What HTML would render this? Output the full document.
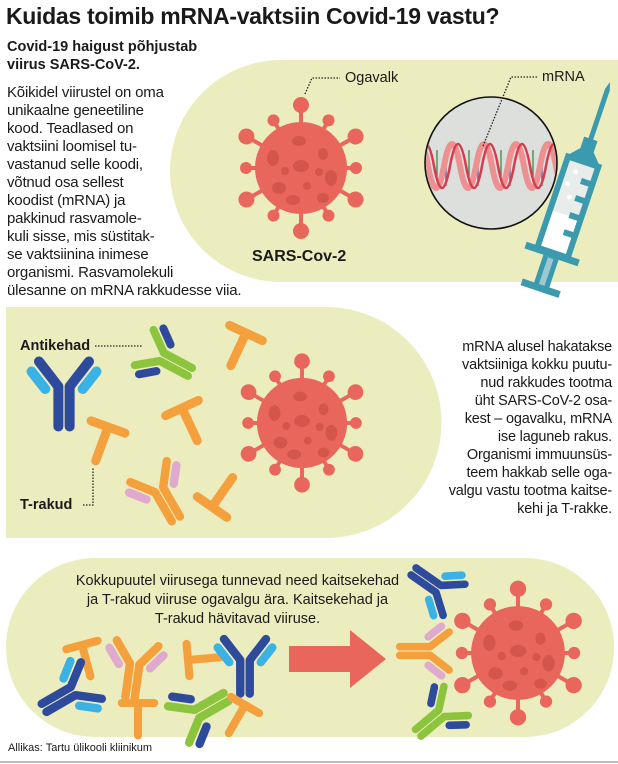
<!DOCTYPE html>
<html><head><meta charset="utf-8"><style>
body{margin:0;background:#fff;width:618px;height:764px;overflow:hidden;position:relative;font-family:"Liberation Sans",Arial,sans-serif;color:#1a1a1a}
.t{position:absolute;white-space:nowrap}
h1{position:absolute;left:6px;top:3px;margin:0;font-size:23px;font-weight:bold;letter-spacing:-0.3px}
.sub{left:7px;top:38px;font-size:14.5px;font-weight:bold;line-height:18px}
.body{left:7px;top:84px;font-size:15px;line-height:18px;letter-spacing:-0.2px}
.r{right:6px;top:338px;font-size:14.5px;line-height:18px;text-align:right;letter-spacing:-0.2px}
.c{left:40px;width:395px;top:572px;font-size:14.5px;line-height:19px;text-align:center}
svg{position:absolute;left:0;top:0}
</style></head><body>
<svg width="618" height="764" viewBox="0 0 618 764">
<defs>
<g id="spike"><line x1="0" y1="-40" x2="0" y2="-60" stroke="#e8665b" stroke-width="4"/><circle cx="0" cy="-63" r="8" fill="#e8665b"/></g>
<g id="spike2"><line x1="0" y1="-40" x2="0" y2="-52" stroke="#e8665b" stroke-width="4"/><circle cx="0" cy="-55" r="6" fill="#e8665b"/></g>
<g id="virus">
<use href="#spike" transform="rotate(0)"/><use href="#spike2" transform="rotate(30)"/>
<use href="#spike" transform="rotate(60)"/><use href="#spike2" transform="rotate(90)"/>
<use href="#spike" transform="rotate(120)"/><use href="#spike2" transform="rotate(150)"/>
<use href="#spike" transform="rotate(180)"/><use href="#spike2" transform="rotate(210)"/>
<use href="#spike" transform="rotate(240)"/><use href="#spike2" transform="rotate(270)"/>
<use href="#spike" transform="rotate(300)"/><use href="#spike2" transform="rotate(330)"/>
<circle r="46" fill="#e8665b"/>
<g fill="#d4554c"><ellipse cx="-2" cy="-27" rx="7" ry="5"/><ellipse cx="-28" cy="-10" rx="6" ry="8"/><ellipse cx="22" cy="-14" rx="5" ry="6"/><ellipse cx="0" cy="-2" rx="8" ry="6"/><ellipse cx="-16" cy="3" rx="4" ry="4"/><ellipse cx="18" cy="4" rx="4" ry="4"/><ellipse cx="30" cy="10" rx="6" ry="8"/><ellipse cx="-22" cy="20" rx="7" ry="6"/><ellipse cx="6" cy="18" rx="4" ry="4"/><ellipse cx="-8" cy="32" rx="7" ry="5"/><ellipse cx="22" cy="30" rx="6" ry="5"/></g>
</g>
<g id="ab" fill="none" stroke-linecap="round" stroke-linejoin="round" stroke-width="8">
<path d="M-4.5 34 L-4.5 2 L-20 -18" style="stroke:var(--h)"/><path d="M4.5 34 L4.5 2 L20 -18" style="stroke:var(--h)"/>
<line x1="-15" y1="4" x2="-26" y2="-10" style="stroke:var(--l)"/><line x1="15" y1="4" x2="26" y2="-10" style="stroke:var(--l)"/>
</g>
<g id="tc" stroke="#f4a03c" stroke-width="9" stroke-linecap="round"><line x1="-18" y1="0" x2="18" y2="0"/><line x1="0" y1="0" x2="0" y2="36"/></g>
<clipPath id="cc"><circle cx="491" cy="163" r="65"/></clipPath>
</defs>
<!-- panel 1 -->
<path d="M281 60 H618 V282 H281 A111 111 0 0 1 281 60Z" fill="#ecedbf"/>
<use href="#virus" transform="translate(301,168)"/>
<path d="M305 94 L312 78 L340 78" fill="none" stroke="#222" stroke-width="1.3" stroke-dasharray="1.5 1.5"/>
<circle cx="491" cy="163" r="66" fill="#dcdfdc" stroke="#111" stroke-width="1.6"/>
<g clip-path="url(#cc)">
<g stroke-width="1.3">
<line x1="437" y1="150" x2="437" y2="180" stroke="#3a8a4a"/><line x1="446" y1="160" x2="446" y2="186" stroke="#4a5ab0"/>
<line x1="469" y1="150" x2="469" y2="180" stroke="#3a8a4a"/><line x1="478" y1="160" x2="478" y2="186" stroke="#4a5ab0"/>
<line x1="501" y1="150" x2="501" y2="180" stroke="#3a8a4a"/><line x1="510" y1="160" x2="510" y2="186" stroke="#4a5ab0"/>
<line x1="533" y1="150" x2="533" y2="180" stroke="#3a8a4a"/><line x1="542" y1="160" x2="542" y2="186" stroke="#4a5ab0"/>
</g>
<path d="M412 166 q8 -44 16 0 t16 0 t16 0 t16 0 t16 0 t16 0 t16 0 t16 0 t16 0 t16 0" fill="none" stroke="#ec9090" stroke-width="6"/>
<path d="M418 166 q8 -44 16 0 t16 0 t16 0 t16 0 t16 0 t16 0 t16 0 t16 0 t16 0 t16 0" fill="none" stroke="#d63c50" stroke-width="2.5"/>
</g>
<path d="M483 146 L511 77 L538 77" fill="none" stroke="#222" stroke-width="1.3" stroke-dasharray="1.5 1.5"/>
<path d="M552 196 L563 185 L566 205Z" fill="#111"/>
<g transform="translate(610,82) rotate(18.6)">
<path d="M0 0 L-2.5 8 L-2.5 62 L2.5 62 L2.5 8Z" fill="#3b9aae"/>
<rect x="-7" y="60" width="14" height="14" fill="#3b9aae"/>
<path d="M-7 72 L-18 84 L18 84 L7 72Z" fill="#3b9aae"/>
<rect x="-16" y="84" width="32" height="96" fill="#e8ecea" stroke="#3b9aae" stroke-width="6"/>
<rect x="-13" y="140" width="26" height="37" fill="#fff"/>
<g fill="#3b9aae"><rect x="4" y="100" width="12" height="6"/><rect x="4" y="118" width="12" height="6"/><rect x="4" y="136" width="12" height="6"/><rect x="4" y="154" width="12" height="6"/></g>
<circle cx="-4" cy="96" r="2.5" fill="#fff"/><circle cx="-8" cy="110" r="2.5" fill="#fff"/><circle cx="-2" cy="122" r="2.5" fill="#fff"/>
<rect x="-28" y="178" width="56" height="7" fill="#3b9aae"/>
<rect x="-8" y="185" width="16" height="32" fill="#3b9aae"/>
<rect x="-3" y="186" width="6" height="30" fill="#9cc8cf"/>
<rect x="-20" y="214" width="40" height="7" fill="#3b9aae"/>
</g>
<!-- panel 2 -->
<path d="M6 307 H326 A115.5 115.5 0 0 1 326 538 H6Z" fill="#ecedbf"/>
<use href="#virus" transform="translate(302,423) scale(0.98)"/>
<use href="#ab" style="--h:#2d4a9c;--l:#3ab2e4" transform="translate(64,384) scale(1.25)"/>
<use href="#ab" style="--h:#8cc43e;--l:#2d4a9c" transform="translate(160,356) rotate(-62)"/>
<use href="#ab" style="--h:#f4a03c;--l:#e0aace" transform="translate(158,488) rotate(-30) scale(1.05)"/>
<use href="#tc" transform="translate(246,333) rotate(25)"/>
<use href="#tc" transform="translate(182,408) rotate(-25)"/>
<use href="#tc" transform="translate(108,427) rotate(20)"/>
<use href="#tc" transform="translate(212,507) rotate(-145)"/>
<path d="M95 346 L142 346" stroke="#222" stroke-width="1.3" stroke-dasharray="1.5 1.5"/>
<path d="M83 505 L93 505 L93 467" fill="none" stroke="#222" stroke-width="1.3" stroke-dasharray="1.5 1.5"/>
<!-- panel 3 -->
<rect x="6" y="558" width="608" height="179" rx="89" fill="#ecedbf"/>
<use href="#virus" transform="translate(518,653) scale(1.02)"/>
<path d="M289 646 H350 V630 L386 659 L350 688 V672 H289Z" fill="#e8665b"/>
<use href="#ab" style="--h:#2d4a9c;--l:#3ab2e4" transform="translate(440,590) rotate(125) scale(0.95)"/>
<use href="#ab" style="--h:#f4a03c;--l:#e0aace" transform="translate(432,651) rotate(90) scale(0.95)"/>
<use href="#ab" style="--h:#8cc43e;--l:#2d4a9c" transform="translate(443,712) rotate(50) scale(0.95)"/>
<use href="#tc" transform="translate(82,645) rotate(-15) scale(0.9)"/>
<use href="#ab" style="--h:#f4a03c;--l:#e0aace" transform="translate(135,662) rotate(8) scale(1.05)"/>
<use href="#tc" transform="translate(188,660) rotate(-95) scale(0.9)"/>
<use href="#ab" style="--h:#2d4a9c;--l:#3ab2e4" transform="translate(245,658) scale(1.05)"/>
<use href="#ab" style="--h:#2d4a9c;--l:#3ab2e4" transform="translate(75,690) rotate(60) scale(1.05)"/>
<use href="#tc" transform="translate(138,703) scale(0.9)"/>
<use href="#ab" style="--h:#8cc43e;--l:#2d4a9c" transform="translate(195,715) rotate(-120) scale(1.05)"/>
<use href="#tc" transform="translate(245,705) rotate(30) scale(0.9)"/>
<line x1="0" y1="762" x2="618" y2="762" stroke="#bbb" stroke-width="2"/>
</svg>
<h1>Kuidas toimib mRNA-vaktsiin Covid-19 vastu?</h1>
<div class="t sub">Covid-19 haigust põhjustab<br>viirus SARS-CoV-2.</div>
<div class="t body">Kõikidel viirustel on oma<br>unikaalne geneetiline<br>kood. Teadlased on<br>vaktsiini loomisel tu-<br>vastanud selle koodi,<br>võtnud osa sellest<br>koodist (mRNA) ja<br>pakkinud rasvamole-<br>kuli sisse, mis süstitak-<br>se vaktsiinina inimese<br>organismi. Rasvamolekuli<br>ülesanne on mRNA rakkudesse viia.</div>
<div class="t" style="left:345px;top:70px;font-size:14.5px">Ogavalk</div>
<div class="t" style="left:542px;top:69px;font-size:14.5px">mRNA</div>
<div class="t" style="left:252px;top:248px;font-size:16px;font-weight:bold">SARS-Cov-2</div>
<div class="t r">mRNA alusel hakatakse<br>vaktsiiniga kokku puutu-<br>nud rakkudes tootma<br>üht SARS-CoV-2 osa-<br>kest – ogavalku, mRNA<br>ise laguneb rakus.<br>Organismi immuunsüs-<br>teem hakkab selle oga-<br>valgu vastu tootma kaitse-<br>kehi ja T-rakke.</div>
<div class="t" style="left:20px;top:338px;font-size:14.5px;font-weight:bold">Antikehad</div>
<div class="t" style="left:20px;top:497px;font-size:14.5px;font-weight:bold">T-rakud</div>
<div class="t c">Kokkupuutel viirusega tunnevad need kaitsekehad<br>ja T-rakud viiruse ogavalgu ära. Kaitsekehad ja<br>T-rakud hävitavad viiruse.</div>
<div class="t" style="left:8px;top:742px;font-size:11px">Allikas: Tartu ülikooli kliinikum</div>
</body></html>
